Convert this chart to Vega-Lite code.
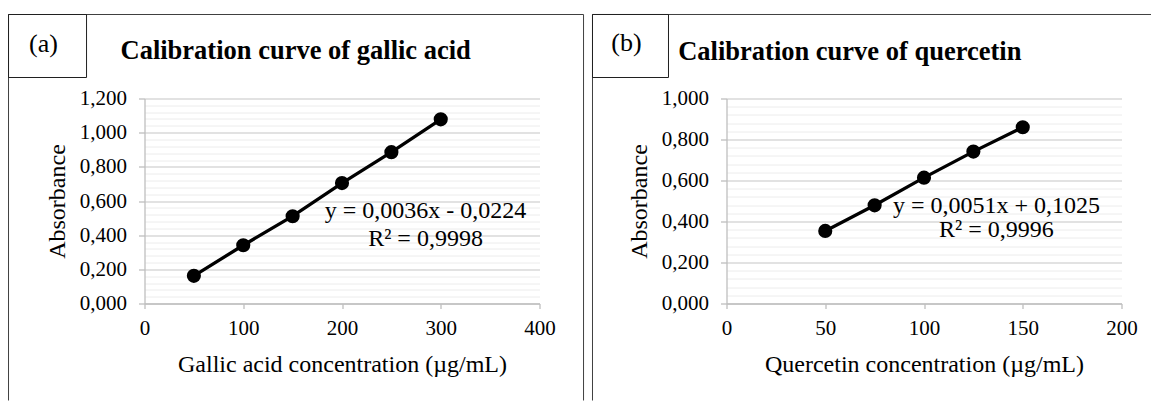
{
  "$schema": "https://vega.github.io/schema/vega-lite/v6.json",
  "background": "white",
  "padding": {"left": 7.5, "top": 13.5, "right": 0, "bottom": 0},
  "spacing": 7,
  "config": {"view": {"stroke": null}, "font": "Liberation Serif"},
  "datasets": {
    "gallic": [
      {"conc": 50, "abs": 0.162},
      {"conc": 100, "abs": 0.341},
      {"conc": 150, "abs": 0.511},
      {"conc": 200, "abs": 0.705},
      {"conc": 250, "abs": 0.886},
      {"conc": 300, "abs": 1.078}
    ],
    "quercetin": [
      {"conc": 50, "abs": 0.354},
      {"conc": 75, "abs": 0.479},
      {"conc": 100, "abs": 0.614},
      {"conc": 125, "abs": 0.741},
      {"conc": 150, "abs": 0.860}
    ]
  },
  "hconcat": [
    {
      "width": 395,
      "height": 205,
      "resolve": {"axis": {"x": "independent", "y": "independent"}},
      "layer": [
        {
          "data": {"name": "gallic"},
          "mark": {"type": "line", "color": "black", "strokeWidth": 3.3},
          "encoding": {
            "x": {"field": "conc", "type": "quantitative", "scale": {"domain": [0, 400], "nice": false}, "axis": null},
            "y": {"field": "abs", "type": "quantitative", "scale": {"domain": [0, 1.2], "nice": false},
              "axis": {"orient": "left", "values": [0,0.04,0.08,0.12,0.16,0.24,0.28,0.32,0.36,0.44,0.48,0.52,0.56,0.64,0.68,0.72,0.76,0.84,0.88,0.92,0.96,1.04,1.08,1.12,1.16],
                "grid": true, "gridColor": "#ececec", "gridWidth": 1, "labels": false, "ticks": false, "domain": false, "title": null}}
          }
        },
        {
          "data": {"name": "gallic"},
          "mark": {"type": "point", "filled": true, "color": "black", "size": 200, "opacity": 1},
          "encoding": {
            "x": {"field": "conc", "type": "quantitative", "scale": {"domain": [0, 400], "nice": false},
              "axis": {"orient": "bottom", "values": [0,100,200,300,400], "format": "d", "grid": false, "domainColor": "#bfbfbf", "domainWidth": 1.3, "tickColor": "#bfbfbf", "tickSize": 5, "tickWidth": 1.3,
                "labelFont": "Liberation Serif", "labelFontSize": 21, "labelColor": "black", "labelBaseline": "alphabetic", "labelPadding": 26, "labelFlush": false,
                "title": "Gallic acid concentration (µg/mL)", "titleFont": "Liberation Serif", "titleFontSize": 24, "titleFontWeight": "normal", "titleColor": "black",
                "titleBaseline": "alphabetic", "titleX": 197.5, "titleY": 68, "titleAlign": "center"}},
            "y": {"field": "abs", "type": "quantitative", "scale": {"domain": [0, 1.2], "nice": false},
              "axis": {"orient": "left", "values": [0,0.2,0.4,0.6,0.8,1.0,1.2], "labelExpr": "replace(format(datum.value, '.3f'), '.', ',')",
                "grid": true, "gridColor": "#d9d9d9", "gridWidth": 1.5, "domainColor": "#bfbfbf", "domainWidth": 1.3, "tickColor": "#bfbfbf", "tickSize": 6, "tickWidth": 1.3,
                "labelFont": "Liberation Serif", "labelFontSize": 21, "labelColor": "black", "labelPadding": 12, "labelFlush": false,
                "title": "Absorbance", "titleFont": "Liberation Serif", "titleFontSize": 24, "titleFontWeight": "normal", "titleColor": "black",
                "titleAngle": -90, "titleBaseline": "alphabetic", "titleAlign": "center", "titleX": -80, "titleY": 102.5}}
          }
        },
        {
          "data": {"values": [{}]},
          "mark": {"type": "rule", "color": "#404040", "strokeWidth": 1},
          "encoding": {
            "x": {"datum": -137.7, "type": "quantitative", "axis": null},
            "x2": {"datum": 444.6},
            "y": {"datum": 1.6917, "type": "quantitative", "axis": null}
          }
        },
        {
          "data": {"values": [{}]},
          "mark": {"type": "rule", "color": "#404040", "strokeWidth": 1},
          "encoding": {
            "x": {"datum": -137.7, "type": "quantitative", "axis": null},
            "y": {"datum": 1.6917, "type": "quantitative", "axis": null},
            "y2": {"datum": -0.5678}
          }
        },
        {
          "data": {"values": [{}]},
          "mark": {"type": "rule", "color": "#404040", "strokeWidth": 1},
          "encoding": {
            "x": {"datum": 444.6, "type": "quantitative", "axis": null},
            "y": {"datum": 1.6917, "type": "quantitative", "axis": null},
            "y2": {"datum": -0.5678}
          }
        },
        {
          "data": {"values": [{}]},
          "mark": {"type": "rect", "filled": false, "stroke": "#202020", "strokeWidth": 1},
          "encoding": {
            "x": {"datum": -137.7, "type": "quantitative", "axis": null},
            "x2": {"datum": -58.7},
            "y": {"datum": 1.6917, "type": "quantitative", "axis": null},
            "y2": {"datum": 1.3229}
          }
        },
        {
          "data": {"values": [{}]},
          "mark": {"type": "text", "text": "(a)", "font": "Liberation Serif", "fontSize": 26, "align": "center", "baseline": "alphabetic", "color": "black"},
          "encoding": {
            "x": {"datum": -102.3, "type": "quantitative", "axis": null},
            "y": {"datum": 1.4751, "type": "quantitative", "axis": null}
          }
        },
        {
          "data": {"values": [{}]},
          "mark": {"type": "text", "text": "Calibration curve of gallic acid", "font": "Liberation Serif", "fontSize": 26.5, "fontWeight": "bold", "align": "left", "baseline": "alphabetic", "color": "black"},
          "encoding": {
            "x": {"datum": -24.3, "type": "quantitative", "axis": null},
            "y": {"datum": 1.4283, "type": "quantitative", "axis": null}
          }
        },
        {
          "data": {"values": [{}]},
          "mark": {"type": "text", "text": "y = 0,0036x - 0,0224", "font": "Liberation Serif", "fontSize": 24, "align": "center", "baseline": "alphabetic", "color": "black"},
          "encoding": {
            "x": {"datum": 284.6, "type": "quantitative", "axis": null},
            "y": {"datum": 0.4976, "type": "quantitative", "axis": null}
          }
        },
        {
          "data": {"values": [{}]},
          "mark": {"type": "text", "text": "R² = 0,9998", "font": "Liberation Serif", "fontSize": 24, "align": "center", "baseline": "alphabetic", "color": "black"},
          "encoding": {
            "x": {"datum": 284.6, "type": "quantitative", "axis": null},
            "y": {"datum": 0.3337, "type": "quantitative", "axis": null}
          }
        }
      ]
    },
    {
      "width": 395,
      "height": 205,
      "resolve": {"axis": {"x": "independent", "y": "independent"}},
      "layer": [
        {
          "data": {"name": "quercetin"},
          "mark": {"type": "line", "color": "black", "strokeWidth": 3.3},
          "encoding": {
            "x": {"field": "conc", "type": "quantitative", "scale": {"domain": [0, 200], "nice": false}, "axis": null},
            "y": {"field": "abs", "type": "quantitative", "scale": {"domain": [0, 1.0], "nice": false},
              "axis": {"orient": "left", "values": [0,0.04,0.08,0.12,0.16,0.24,0.28,0.32,0.36,0.44,0.48,0.52,0.56,0.64,0.68,0.72,0.76,0.84,0.88,0.92,0.96],
                "grid": true, "gridColor": "#ececec", "gridWidth": 1, "labels": false, "ticks": false, "domain": false, "title": null}}
          }
        },
        {
          "data": {"name": "quercetin"},
          "mark": {"type": "point", "filled": true, "color": "black", "size": 200, "opacity": 1},
          "encoding": {
            "x": {"field": "conc", "type": "quantitative", "scale": {"domain": [0, 200], "nice": false},
              "axis": {"orient": "bottom", "values": [0,50,100,150,200], "format": "d", "grid": false, "domainColor": "#bfbfbf", "domainWidth": 1.3, "tickColor": "#bfbfbf", "tickSize": 5, "tickWidth": 1.3,
                "labelFont": "Liberation Serif", "labelFontSize": 21, "labelColor": "black", "labelBaseline": "alphabetic", "labelPadding": 26, "labelFlush": false,
                "title": "Quercetin concentration (µg/mL)", "titleFont": "Liberation Serif", "titleFontSize": 24, "titleFontWeight": "normal", "titleColor": "black",
                "titleBaseline": "alphabetic", "titleX": 197.5, "titleY": 68, "titleAlign": "center"}},
            "y": {"field": "abs", "type": "quantitative", "scale": {"domain": [0, 1.0], "nice": false},
              "axis": {"orient": "left", "values": [0,0.2,0.4,0.6,0.8,1.0], "labelExpr": "replace(format(datum.value, '.3f'), '.', ',')",
                "grid": true, "gridColor": "#d9d9d9", "gridWidth": 1.5, "domainColor": "#bfbfbf", "domainWidth": 1.3, "tickColor": "#bfbfbf", "tickSize": 6, "tickWidth": 1.3,
                "labelFont": "Liberation Serif", "labelFontSize": 21, "labelColor": "black", "labelPadding": 12, "labelFlush": false,
                "title": "Absorbance", "titleFont": "Liberation Serif", "titleFontSize": 24, "titleFontWeight": "normal", "titleColor": "black",
                "titleAngle": -90, "titleBaseline": "alphabetic", "titleAlign": "center", "titleX": -80, "titleY": 102.5}}
          }
        },
        {
          "data": {"values": [{}]},
          "mark": {"type": "rule", "color": "#404040", "strokeWidth": 1},
          "encoding": {
            "x": {"datum": -67.85, "type": "quantitative", "axis": null},
            "x2": {"datum": 215.2},
            "y": {"datum": 1.4098, "type": "quantitative", "axis": null}
          }
        },
        {
          "data": {"values": [{}]},
          "mark": {"type": "rule", "color": "#404040", "strokeWidth": 1},
          "encoding": {
            "x": {"datum": -67.85, "type": "quantitative", "axis": null},
            "y": {"datum": 1.4098, "type": "quantitative", "axis": null},
            "y2": {"datum": -0.4732}
          }
        },
        {
          "data": {"values": [{}]},
          "mark": {"type": "rect", "filled": false, "stroke": "#202020", "strokeWidth": 1},
          "encoding": {
            "x": {"datum": -67.85, "type": "quantitative", "axis": null},
            "x2": {"datum": -29.37},
            "y": {"datum": 1.4098, "type": "quantitative", "axis": null},
            "y2": {"datum": 1.1024}
          }
        },
        {
          "data": {"values": [{}]},
          "mark": {"type": "text", "text": "(b)", "font": "Liberation Serif", "fontSize": 26, "align": "center", "baseline": "alphabetic", "color": "black"},
          "encoding": {
            "x": {"datum": -50.63, "type": "quantitative", "axis": null},
            "y": {"datum": 1.2293, "type": "quantitative", "axis": null}
          }
        },
        {
          "data": {"values": [{}]},
          "mark": {"type": "text", "text": "Calibration curve of quercetin", "font": "Liberation Serif", "fontSize": 26.5, "fontWeight": "bold", "align": "left", "baseline": "alphabetic", "color": "black"},
          "encoding": {
            "x": {"datum": -24.46, "type": "quantitative", "axis": null},
            "y": {"datum": 1.1902, "type": "quantitative", "axis": null}
          }
        },
        {
          "data": {"values": [{}]},
          "mark": {"type": "text", "text": "y = 0,0051x + 0,1025", "font": "Liberation Serif", "fontSize": 24, "align": "center", "baseline": "alphabetic", "color": "black"},
          "encoding": {
            "x": {"datum": 136.7, "type": "quantitative", "axis": null},
            "y": {"datum": 0.4439, "type": "quantitative", "axis": null}
          }
        },
        {
          "data": {"values": [{}]},
          "mark": {"type": "text", "text": "R² = 0,9996", "font": "Liberation Serif", "fontSize": 24, "align": "center", "baseline": "alphabetic", "color": "black"},
          "encoding": {
            "x": {"datum": 136.7, "type": "quantitative", "axis": null},
            "y": {"datum": 0.3220, "type": "quantitative", "axis": null}
          }
        }
      ]
    }
  ]
}
